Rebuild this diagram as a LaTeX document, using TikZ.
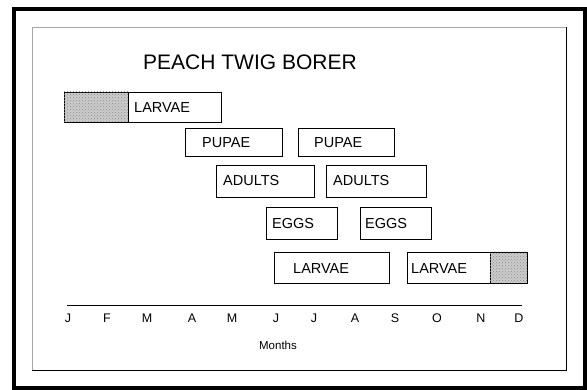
\documentclass[tikz,border=0pt]{standalone}
\usepackage{fontspec}
\setmainfont{Liberation Sans}
\usetikzlibrary{patterns}

\begin{document}
\begin{tikzpicture}[x=1pt, y=-1pt,
		box/.style={draw=black, line width=0.8pt, fill=white},
		hatch/.style={draw=black, line width=0.8pt, fill=gray!40, postaction={pattern=crosshatch dots, pattern color=gray!90}},
		lbl/.style={anchor=base west, inner sep=0pt, font=\fontsize{14.5}{16}\selectfont},
		mon/.style={anchor=base, inner sep=0pt, font=\fontsize{12.5}{14}\selectfont}]
	\useasboundingbox (0,0) rectangle (587,390);
	%
	\draw [black, line width=4.5pt] (14,9) rectangle (585,388);
	\draw [gray!70, line width=0.8pt] (32,370.5) -- (32,27.5) -- (566,27.5);
	\draw [black, line width=0.8pt] (566,27.5) -- (566,370.5) -- (32,370.5);
	%
	\node (title) [anchor=base west, inner sep=0pt, font=\fontsize{21}{25}\selectfont] at (143,70) {PEACH TWIG BORER};
	%
	\draw [hatch] (64,92) rectangle (128,122);
	\draw [box] (128,92) rectangle (221,122);
	\node (larva1) [lbl] at (134,112.5) {LARVAE};
	%
	\draw [box] (185,128) rectangle (282,156);
	\node (pupa1) [lbl] at (202,147.5) {PUPAE};
	\draw [box] (298,128) rectangle (394,156);
	\node (pupa2) [lbl] at (314,147.5) {PUPAE};
	%
	\draw [box] (216,165) rectangle (314,197);
	\node (adult1) [lbl] at (223,185.5) {ADULTS};
	\draw [box] (326,165) rectangle (426,197);
	\node (adult2) [lbl] at (333,185.5) {ADULTS};
	%
	\draw [box] (266,207) rectangle (337,239);
	\node (egg1) [lbl] at (272,229) {EGGS};
	\draw [box] (360,207) rectangle (431,239);
	\node (egg2) [lbl] at (365,229) {EGGS};
	%
	\draw [box] (274,252) rectangle (389,283);
	\node (larva2) [lbl] at (293,273.3) {LARVAE};
	\draw [box] (407,252) rectangle (490,283);
	\draw [hatch] (490,252) rectangle (527,283);
	\node (larva3) [lbl] at (411,273.3) {LARVAE};
	%
	\coordinate (axisL) at (67,305);
	\coordinate (axisR) at (522,305);
	\draw [black, line width=0.9pt] (axisL) -- (axisR);
	\foreach \m/\x [count=\i] in {J/68,F/107,M/147,A/192,M/232,J/276,J/314,A/355,S/395,O/437,N/481,D/519}
		\node (m\i) [mon] at (\x,322.5) {\m};
	\node (months) [anchor=base, inner sep=0pt, font=\fontsize{11.5}{13}\selectfont] at (278,350) {Months};
\end{tikzpicture}
\end{document}
